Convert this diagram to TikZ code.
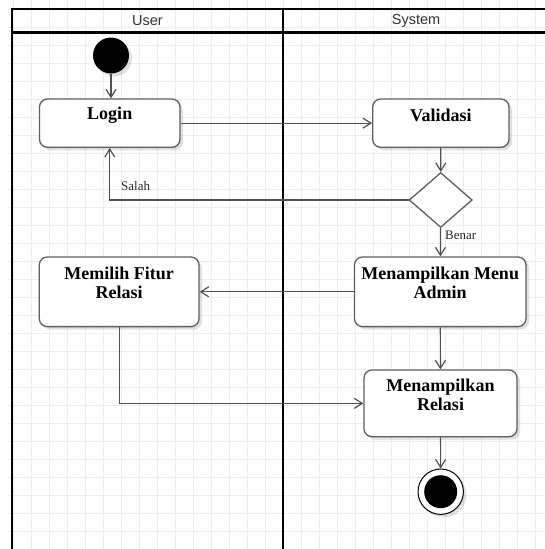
\documentclass[tikz,border=0pt]{standalone}
\usepackage{fontspec}
\setmainfont{Liberation Serif}
\newfontfamily\lanefont{Liberation Sans}
\usetikzlibrary{shapes.geometric,arrows.meta,shadows}
\definecolor{gridc}{HTML}{EDEDED}
\definecolor{boxc}{HTML}{5E5E5E}
\definecolor{edgec}{HTML}{505050}
\definecolor{hdrc}{HTML}{333333}
\begin{document}
\begin{tikzpicture}[x=1pt,y=-1pt,
  act/.style={draw=boxc, line width=1.3pt, rounded corners=8pt, fill=white, inner sep=0pt,
    drop shadow={shadow xshift=3pt, shadow yshift=-3pt, fill=black, opacity=0.12}},
  acttext/.style={align=center, inner sep=0pt, font=\fontsize{18}{19}\selectfont\bfseries},
  decis/.style={diamond, draw=boxc, line width=1.3pt, fill=white, inner sep=0pt},
  initnode/.style={circle, fill=black, inner sep=0pt,
    drop shadow={shadow xshift=3pt, shadow yshift=-3pt, fill=black, opacity=0.12}},
  finalnode/.style={circle, draw=black, line width=1pt, fill=white, inner sep=0pt,
    drop shadow={shadow xshift=3pt, shadow yshift=-3pt, fill=black, opacity=0.12},
    path picture={\fill[black] (path picture bounding box.center) circle (16.5pt);}},
  edge/.style={draw=edgec, line width=1.2pt, -{Straight Barb[length=8pt,width=10pt,line width=1.2pt]}},
  elbl/.style={inner sep=0pt, font=\fontsize{13}{15}\selectfont, text=black!85},
  hdr/.style={inner sep=0pt, font=\lanefont\fontsize{14.5}{16}\selectfont, text=hdrc},
  lane/.style={line width=2.2pt, black}
]
\useasboundingbox (0,0) rectangle (545,549);
\fill[white] (0,0) rectangle (545,549);
% grid
\foreach \i in {0,...,29} \draw[gridc, line width=0.9pt] ({13.5+18*\i},0) -- ({13.5+18*\i},549);
\foreach \j in {0,...,29} \draw[gridc, line width=0.9pt] (7,{9.5+18*\j}) -- (545,{9.5+18*\j});
% swimlanes
\draw[lane] (545,9) -- (12,9) -- (12,549);
\draw[lane] (12,32.5) -- (545,32.5);
\draw[lane] (283,9) -- (283,549);
\node[hdr] (huser) at (147.5,21) {User};
\node[hdr] (hsys) at (416,21) {System};
% nodes
\node[initnode, minimum size=36pt] (start) at (111,55.5) {};
\node[act, minimum width=140.5pt, minimum height=48.3pt] (login) at (109.75,123.15) {};
\node[acttext] (logint) at ([yshift=8pt]login.center) {Login};
\node[act, minimum width=136.3pt, minimum height=48.3pt] (valid) at (440.85,123.15) {};
\node[acttext] (validt) at ([yshift=8pt]valid.center) {Validasi};
\node[decis, minimum width=63pt, minimum height=55pt] (dec) at (440.7,200) {};
\node[act, minimum width=159.7pt, minimum height=69.6pt] (fitur) at (119.15,291.8) {};
\node[acttext] (fiturt) at ([yshift=9pt]fitur.center) {Memilih Fitur\\Relasi};
\node[act, minimum width=171.5pt, minimum height=69.6pt] (admin) at (440.25,291.8) {};
\node[acttext] (admint) at ([yshift=9pt]admin.center) {Menampilkan Menu\\Admin};
\node[act, minimum width=153pt, minimum height=66.7pt] (relasi) at (440.5,403.35) {};
\node[acttext] (relasit) at ([yshift=8.5pt]relasi.center) {Menampilkan\\Relasi};
\node[finalnode, minimum size=45.4pt] (end) at (440.7,491.7) {};
% edges
\draw[edge] (start) -- (start |- login.north);
\draw[edge] (login) -- (valid);
\draw[edge] (valid) -- (dec);
\draw[edge] (dec.west) -| (login.south);
\draw[edge] (dec) -- (admin);
\draw[edge] (admin) -- (fitur);
\draw[edge] (admin) -- (relasi);
\draw[edge] (fitur.south) |- (relasi.west);
\draw[edge] (relasi) -- (end);
% edge labels
\node[elbl, anchor=west] (salah) at (121,186.5) {Salah};
\node[elbl, anchor=west] (benar) at (445,235) {Benar};
\end{tikzpicture}
\end{document}
